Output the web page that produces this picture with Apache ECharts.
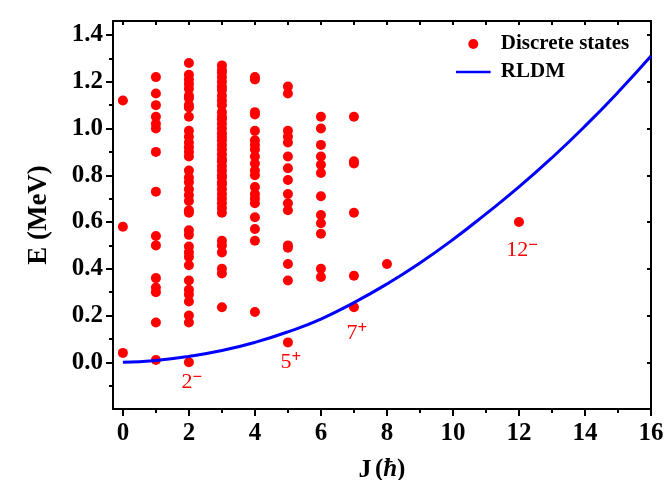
<!DOCTYPE html>
<html>
<head>
<meta charset="utf-8">
<title>Discrete states vs RLDM</title>
<script src="https://cdn.jsdelivr.net/npm/echarts@6/dist/echarts.min.js"></script>
<style>
  html, body { margin: 0; padding: 0; background: #fff; }
  #chart { width: 666px; height: 480px; }
</style>
</head>
<body>
<div id="chart"></div>
<script>
// Level energies (MeV) grouped by spin J (hbar)
const energiesJ0 = [1.12, 0.58, 0.04];
const energiesJ1 = [1.22, 1.15, 1.10, 1.05, 1.02, 1.00, 0.90, 0.73, 0.54, 0.50, 0.36, 0.32, 0.30, 0.17, 0.01];
const energiesJ2 = [1.28, 1.23, 1.21, 1.19, 1.17, 1.14, 1.13, 1.10, 1.09, 1.05, 0.99, 0.965, 0.94, 0.92, 0.90, 0.88,
                    0.82, 0.79, 0.77, 0.74, 0.715, 0.69, 0.65, 0.64, 0.565, 0.545, 0.495, 0.47, 0.45, 0.415,
                    0.35, 0.31, 0.29, 0.26, 0.20, 0.17, 0.00];
const energiesJ3 = [1.27, 1.25, 1.24, 1.22, 1.20, 1.18, 1.165, 1.14, 1.12, 1.10, 1.07, 1.05, 1.04, 1.02, 1.00,
                    0.98, 0.965, 0.95, 0.93, 0.91, 0.89, 0.87, 0.86, 0.84, 0.82, 0.80, 0.79, 0.77, 0.76, 0.74,
                    0.72, 0.70, 0.68, 0.66, 0.64, 0.52, 0.50, 0.47, 0.40, 0.38, 0.235];
const energiesJ4 = [1.22, 1.21, 1.07, 1.06, 0.99, 0.95, 0.93, 0.91, 0.88, 0.85, 0.82, 0.80, 0.75, 0.72, 0.70,
                    0.68, 0.62, 0.57, 0.52, 0.215];
const energiesJ5 = [1.18, 1.15, 0.99, 0.965, 0.94, 0.88, 0.83, 0.78, 0.72, 0.68, 0.65, 0.50, 0.49, 0.42, 0.35, 0.085];
const energiesJ6 = [1.05, 1.00, 0.93, 0.88, 0.845, 0.81, 0.71, 0.63, 0.595, 0.55, 0.40, 0.365];
const energiesJ7 = [1.05, 0.86, 0.85, 0.64, 0.37, 0.235];
const energiesJ8 = [0.42];
const energiesJ12 = [0.60];

// Rigid-rotor (RLDM) yrast curve
const rldmJ = [0, 1, 2, 3, 4, 5, 6, 7, 8, 9, 10, 11, 12, 13, 14, 15, 16];
const rldmE = [0, 0.008, 0.025, 0.05, 0.085, 0.13, 0.185, 0.255, 0.335, 0.425, 0.525, 0.635, 0.75, 0.875, 1.01, 1.155, 1.31];

// Spin-parity tags of selected yrast states
const tagJ = [2, 5, 7, 12];
const tagE = [0.00, 0.085, 0.235, 0.60];
const tagSpin = ['2', '5', '7', '12'];
const tagParity = ['\u2212', '+', '+', '\u2212'];

// Axis ticks
const xMajor = [0, 2, 4, 6, 8, 10, 12, 14, 16];
const xMinor = [1, 3, 5, 7, 9, 11, 13, 15];
const yMajor = [0.0, 0.2, 0.4, 0.6, 0.8, 1.0, 1.2, 1.4];
const yMinor = [-0.1, 0.1, 0.3, 0.5, 0.7, 0.9, 1.1, 1.3];

const levelGroups = [
  [0, energiesJ0], [1, energiesJ1], [2, energiesJ2], [3, energiesJ3], [4, energiesJ4],
  [5, energiesJ5], [6, energiesJ6], [7, energiesJ7], [8, energiesJ8], [12, energiesJ12]
];
const levelPoints = [];
levelGroups.forEach(([j, list]) => list.forEach(e => levelPoints.push([j, e])));

const tagDrop = [20, 20, 26, 28];
const tagPoints = tagJ.map((j, i) => ({
  value: [j, tagE[i]],
  label: {
    formatter: '{n|' + tagSpin[i] + '}{s|' + tagParity[i] + '}',
    offset: [3, tagDrop[i]]
  }
}));

const X_MIN = -0.3, X_MAX = 16, Y_MIN = -0.2, Y_MAX = 1.46;
const FONT = '"Liberation Serif", "Times New Roman", serif';
const lineStyle = { color: '#000', width: 2 };
// thin horizontal stroke icon for the curve's legend entry
const LINE_ICON = 'path://M0,5h45v3h-45z M0,0h0.01v0.01h-0.01z M44.99,12.99h0.01v0.01h-0.01z';

const chart = echarts.init(document.getElementById('chart'), null, { renderer: 'canvas' });

chart.setOption({
  animation: false,
  backgroundColor: '#fff',
  grid: { left: 113, right: 15, top: 21, bottom: 71, outerBoundsMode: 'none', containLabel: false },
  legend: {
    orient: 'vertical',
    left: 456,
    top: 33,
    padding: 0,
    itemWidth: 45,
    itemHeight: 10,
    itemGap: 6,
    data: [
      { name: 'Discrete states', icon: 'circle' },
      { name: 'RLDM', icon: LINE_ICON, itemStyle: { color: '#0000ff' } }
    ],
    textStyle: { fontFamily: FONT, fontWeight: 'bold', fontSize: 21, color: '#000', lineHeight: 22 }
  },
  xAxis: [
    {
      type: 'value', position: 'bottom', min: X_MIN, max: X_MAX,
      axisLine: { show: true, onZero: false, lineStyle },
      splitLine: { show: false },
      axisTick: { show: true, inside: false, length: 7, lineStyle, customValues: xMajor },
      axisLabel: {
        customValues: xMajor, margin: 12,
        fontFamily: FONT, fontWeight: 'bold', fontSize: 25, color: '#000'
      },
      name: '{j|J} {p|(}{h|\u0127}{p|)}',
      nameLocation: 'middle',
      nameGap: 48,
      nameTextStyle: {
        rich: {
          j: { fontFamily: FONT, fontWeight: 'bold', fontSize: 26, color: '#000' },
          p: { fontFamily: FONT, fontWeight: 'bold', fontSize: 25, color: '#000' },
          h: { fontFamily: FONT, fontWeight: 'bold', fontStyle: 'italic', fontSize: 25, color: '#000' }
        }
      }
    },
    {
      type: 'value', position: 'top', min: X_MIN, max: X_MAX,
      axisLine: { show: true, onZero: false, lineStyle },
      splitLine: { show: false },
      axisTick: { show: true, inside: true, length: 4, lineStyle, customValues: xMajor.concat(xMinor) },
      axisLabel: { show: false }
    },
    {
      type: 'value', position: 'bottom', min: X_MIN, max: X_MAX,
      axisLine: { show: false, onZero: false },
      splitLine: { show: false },
      axisTick: { show: true, inside: false, length: 4, lineStyle, customValues: xMinor },
      axisLabel: { show: false }
    }
  ],
  yAxis: [
    {
      type: 'value', position: 'left', min: Y_MIN, max: Y_MAX,
      axisLine: { show: true, onZero: false, lineStyle },
      splitLine: { show: false },
      axisTick: { show: true, inside: false, length: 7, lineStyle, customValues: yMajor },
      axisLabel: {
        customValues: yMajor, margin: 10,
        formatter: v => v.toFixed(1),
        fontFamily: FONT, fontWeight: 'bold', fontSize: 25, color: '#000'
      },
      name: 'E (MeV)',
      nameLocation: 'middle',
      nameGap: 60,
      nameTextStyle: { fontFamily: FONT, fontWeight: 'bold', fontSize: 27, color: '#000' }
    },
    {
      type: 'value', position: 'right', min: Y_MIN, max: Y_MAX,
      axisLine: { show: true, onZero: false, lineStyle },
      splitLine: { show: false },
      axisTick: { show: true, inside: true, length: 4, lineStyle, customValues: yMajor },
      axisLabel: { show: false }
    },
    {
      type: 'value', position: 'left', min: Y_MIN, max: Y_MAX,
      axisLine: { show: false, onZero: false },
      splitLine: { show: false },
      axisTick: { show: true, inside: false, length: 4, lineStyle, customValues: yMinor },
      axisLabel: { show: false }
    }
  ],
  series: [
    {
      name: 'Discrete states',
      type: 'scatter',
      xAxisIndex: 0, yAxisIndex: 0,
      symbol: 'circle',
      symbolSize: 10,
      itemStyle: { color: '#ff0000', opacity: 1 },
      data: levelPoints,
      z: 3
    },
    {
      name: 'RLDM',
      type: 'line',
      xAxisIndex: 0, yAxisIndex: 0,
      smooth: true,
      symbol: 'none',
      showSymbol: false,
      lineStyle: { color: '#0000ff', width: 3 },
      itemStyle: { color: '#0000ff' },
      data: rldmJ.map((j, i) => [j, rldmE[i]]),
      z: 4
    },
    {
      name: 'tags',
      type: 'scatter',
      xAxisIndex: 0, yAxisIndex: 0,
      symbolSize: 0,
      silent: true,
      label: {
        show: true,
        position: 'inside',
        opacity: 1,
        rich: {
          n: { fontFamily: FONT, fontSize: 22, color: '#ff0000', lineHeight: 26 },
          s: { fontFamily: FONT, fontWeight: 'bold', fontSize: 17, color: '#ff0000', lineHeight: 10, verticalAlign: 'top' }
        }
      },
      data: tagPoints,
      z: 5
    }
  ]
});
</script>
</body>
</html>
